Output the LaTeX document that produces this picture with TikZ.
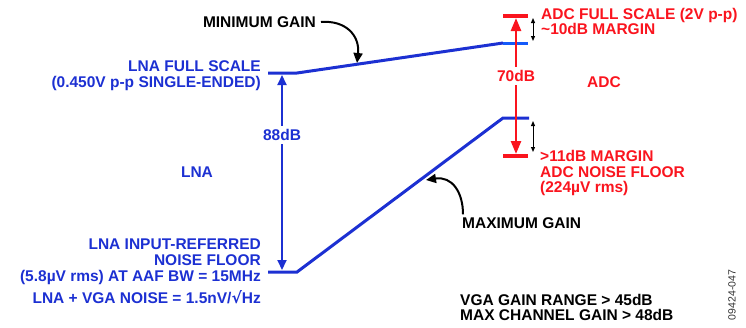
\documentclass[tikz,border=0pt]{standalone}
\usepackage{fontspec}
\setmainfont{Liberation Sans}
\usetikzlibrary{arrows.meta}
\definecolor{lblue}{RGB}{28,48,210}
\definecolor{lightblue}{RGB}{20,90,250}
\definecolor{adcred}{RGB}{250,20,30}
\begin{document}
\begin{tikzpicture}[x=1pt,y=-1pt,
  lbl/.style={font=\bfseries\fontsize{15.5}{15.8}\selectfont, inner sep=0pt},
  bluetxt/.style={lbl, text=lblue},
  redtxt/.style={lbl, text=adcred},
  blktxt/.style={lbl, text=black},
  gainline/.style={draw=lblue, line width=3pt},
  redbar/.style={draw=adcred, line width=3.5pt},
  bluearr/.style={draw=lblue, line width=2pt, {Triangle[length=10pt,width=9pt]}-{Triangle[length=10pt,width=9pt]}},
  redarr/.style={draw=adcred, line width=2.5pt, {Triangle[length=13pt,width=10pt]}-{Triangle[length=13pt,width=10pt]}},
  smallarr/.style={draw=black, line width=1pt, {Triangle[length=5pt,width=4pt]}-{Triangle[length=5pt,width=4pt]}},
  callout/.style={draw=black, line width=2pt, -{Triangle[length=10pt,width=9pt]}}
]
\useasboundingbox (0,0) rectangle (746,327);

% key points
\coordinate (fsL) at (268,73);
\coordinate (fsK) at (297,73);
\coordinate (fsR) at (503,43);
\coordinate (fsE) at (528,43);
\coordinate (nfL) at (268,272);
\coordinate (nfK) at (297,272);
\coordinate (nfR) at (503,118);
\coordinate (nfE) at (529,118);
\coordinate (adcTopL) at (503,16);
\coordinate (adcTopR) at (528,16);
\coordinate (adcBotL) at (503,156);
\coordinate (adcBotR) at (528,156);

% gain lines
\draw[gainline] (fsL) -- (fsK) -- (fsR);
\draw[gainline, draw=lightblue] (fsR) -- (fsE);
\draw[gainline] (nfL) -- (nfK) -- (nfR) -- (nfE);

% ADC bars
\draw[redbar] (adcTopL) -- (adcTopR);
\draw[redbar] (adcBotL) -- (adcBotR);

% 88dB arrow
\coordinate (b88top) at (282,75);
\coordinate (b88bot) at (282,270);
\draw[bluearr] (b88top) -- (b88bot);
\node[bluetxt, fill=white, inner sep=3pt] (l88) at (282,135) {88dB};

% 70dB arrow
\coordinate (r70top) at (516,18);
\coordinate (r70bot) at (516,154);
\draw[redarr] (r70top) -- (r70bot);
\node[redtxt, fill=white, inner sep=3pt] (l70) at (516,76) {70dB};

% margin arrows
\coordinate (m1a) at (533,18);
\coordinate (m1b) at (533,41);
\coordinate (m2a) at (533,121);
\coordinate (m2b) at (533,152);
\draw[smallarr] (m1a) -- (m1b);
\draw[smallarr] (m2a) -- (m2b);

% texts
\node[blktxt, anchor=east] (mingain) at (316,22) {MINIMUM GAIN};
\node[bluetxt, anchor=east, align=right] (lnafs) at (261,76) {LNA FULL SCALE\\(0.450V p-p SINGLE-ENDED)};
\node[bluetxt] (lna) at (197,172) {LNA};
\node[bluetxt, anchor=east, align=right] (lnanf) at (261,262) {LNA INPUT-REFERRED\\NOISE FLOOR\\(5.8µV rms) AT AAF BW = 15MHz};
\node[bluetxt, anchor=east] (vganoise) at (261,297) {LNA + VGA NOISE = 1.5nV/\fontspec{DejaVu Sans}\bfseries√\fontspec{Liberation Sans}\bfseries Hz};
\node[redtxt, anchor=west, align=left] (adcfs) at (541,21.5) {ADC FULL SCALE (2V p-p)\\\textasciitilde10dB MARGIN};
\node[redtxt] (adc) at (604,82) {ADC};
\node[redtxt, anchor=west, align=left] (adcnf) at (540,173) {>11dB MARGIN\\ADC NOISE FLOOR\\(224µV rms)};
\node[blktxt, anchor=west] (maxgain) at (462,223) {MAXIMUM GAIN};
\node[blktxt, anchor=west, align=left] (vga) at (460,307.5) {VGA GAIN RANGE > 45dB\\MAX CHANNEL GAIN > 48dB};
\node[font=\fontsize{10.5}{12}\selectfont, text=black!80, rotate=90, inner sep=0pt] (fig) at (732,295) {09424-047};

% callouts
\coordinate (minpt) at (357,63);
\coordinate (maxpt) at (426,180);
\draw[callout] (mingain.east) ++(5,0) .. controls (345,20) and (360,35) .. (minpt);
\draw[callout] (maxgain.north west) ++(1,-3) .. controls (463,192) and (452,176) .. (maxpt);
\end{tikzpicture}
\end{document}
